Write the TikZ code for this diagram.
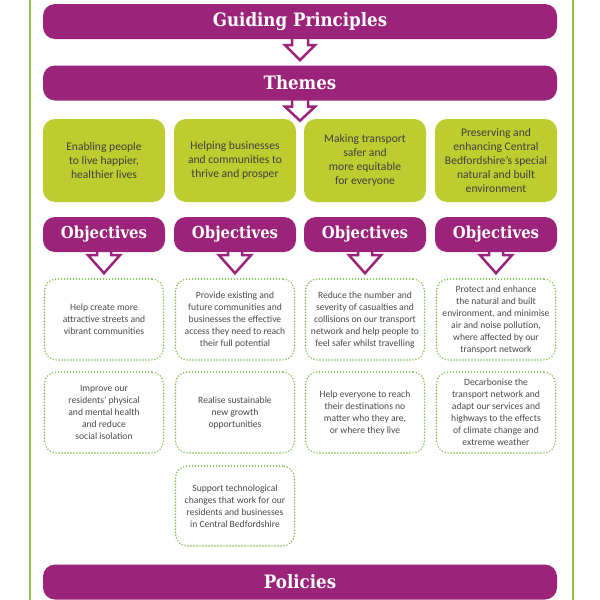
\documentclass[tikz,border=0pt]{standalone}
\usepackage{fontspec}
\setmainfont{Carlito}
\newfontfamily\hdfont[FakeStretch=0.9]{DejaVu Serif}
\usetikzlibrary{calc}
\definecolor{plum}{HTML}{9B2379}
\definecolor{lime}{HTML}{BDCC2E}
\definecolor{framegreen}{HTML}{8DC63F}
\definecolor{dotgreen}{HTML}{74BE3F}
\definecolor{bodytext}{HTML}{404040}
\definecolor{graytext}{HTML}{4A4A4A}
\pgfdeclarelayer{back}
\pgfdeclarelayer{bg}
\pgfsetlayers{back,bg,main}
\tikzset{
 bar/.style={fill=plum, rounded corners=12pt, minimum width=514pt, minimum height=35pt, text=white, font=\hdfont\bfseries\fontsize{18.5}{22}\selectfont, inner sep=0pt},
 objbar/.style={bar, minimum width=122pt, font=\hdfont\bfseries\fontsize{16.5}{20}\selectfont},
 theme/.style={fill=lime, rounded corners=12pt, minimum width=122pt, minimum height=83pt, align=center, text=bodytext, font=\fontsize{11.6}{14.2}\selectfont, inner sep=0pt},
 objbox/.style={draw=dotgreen, line width=1.6pt, dash pattern=on 0pt off 3pt, line cap=round, rounded corners=12pt, minimum width=119pt, minimum height=81pt, align=center, text=graytext, font=\fontsize{9.6}{12}\selectfont, inner sep=0pt},
 arrowst/.style={draw=plum, fill=white, line width=2.5pt, line join=miter},
 frameline/.style={draw=framegreen, line width=2pt}
}
% #1 start coordinate, #2 stem half width, #3 head top offset, #4 head half width, #5 tip offset
\newcommand\hollowdown[5]{%
 \path[arrowst] ($(#1)+(-#2,-4)$) -- ($(#1)+(-#2,#3)$) -- ($(#1)+(-#4,#3)$) -- ($(#1)+(0,#5)$) -- ($(#1)+(#4,#3)$) -- ($(#1)+(#2,#3)$) -- ($(#1)+(#2,-4)$);%
}
\begin{document}
\begin{tikzpicture}[x=1pt,y=-1pt]
\useasboundingbox (0,0) rectangle (600,600);
\begin{pgfonlayer}{back}
\fill[white] (0,0) rectangle (600,600);
\end{pgfonlayer}
\draw[frameline] (29.5,0) -- (29.5,600);
\draw[frameline] (572.5,0) -- (572.5,600);

\node[bar] (gp) at (300,21.5) {Guiding Principles};
\node[bar] (th) at (300,83) {Themes};
\node[bar] (pol) at (300,582) {Policies};

\node[theme] (t1) at (104,160.5) {Enabling people\\to live happier,\\healthier lives};
\node[theme] (t2) at (235,160.5) {Helping businesses\\and communities to\\thrive and prosper};
\node[theme] (t3) at (365,160.5) {Making transport\\safer and\\more equitable\\for everyone};
\node[theme] (t4) at (496,160.5) {Preserving and\\enhancing Central\\Bedfordshire’s special\\natural and built\\environment};

\node[objbar] (o1) at (104,234.5) {Objectives};
\node[objbar] (o2) at (235,234.5) {Objectives};
\node[objbar] (o3) at (365,234.5) {Objectives};
\node[objbar] (o4) at (496,234.5) {Objectives};

\node[objbox] (b11) at (104,319.5) {Help create more\\attractive streets and\\vibrant communities};
\node[objbox] (b12) at (104,412.5) {Improve our\\residents’ physical\\and mental health\\and reduce\\social isolation};
\node[objbox] (b21) at (235,319.5) {Provide existing and\\future communities and\\businesses the effective\\access they need to reach\\their full potential};
\node[objbox] (b22) at (235,412.5) {Realise sustainable\\new growth\\opportunities};
\node[objbox, minimum height=80pt] (b23) at (235,506) {Support technological\\changes that work for our\\residents and businesses\\in Central Bedfordshire};
\node[objbox] (b31) at (365,319.5) {Reduce the number and\\severity of casualties and\\collisions on our transport\\network and help people to\\feel safer whilst travelling};
\node[objbox] (b32) at (365,412.5) {Help everyone to reach\\their destinations no\\matter who they are,\\or where they live};
\node[objbox] (b41) at (496,319.5) {Protect and enhance\\the natural and built\\environment, and minimise\\air and noise pollution,\\where affected by our\\transport network};
\node[objbox] (b42) at (496,412.5) {Decarbonise the\\transport network and\\adapt our services and\\highways to the effects\\of climate change and\\extreme weather};

\begin{pgfonlayer}{bg}
\hollowdown{gp.south}{8}{6}{15}{21}
\hollowdown{th.south}{8}{6}{15}{20}
\hollowdown{o1.south}{7}{3}{16}{21}
\hollowdown{o2.south}{7}{3}{16}{21}
\hollowdown{o3.south}{7}{3}{16}{21}
\hollowdown{o4.south}{7}{3}{16}{21}
\end{pgfonlayer}
\end{tikzpicture}
\end{document}
